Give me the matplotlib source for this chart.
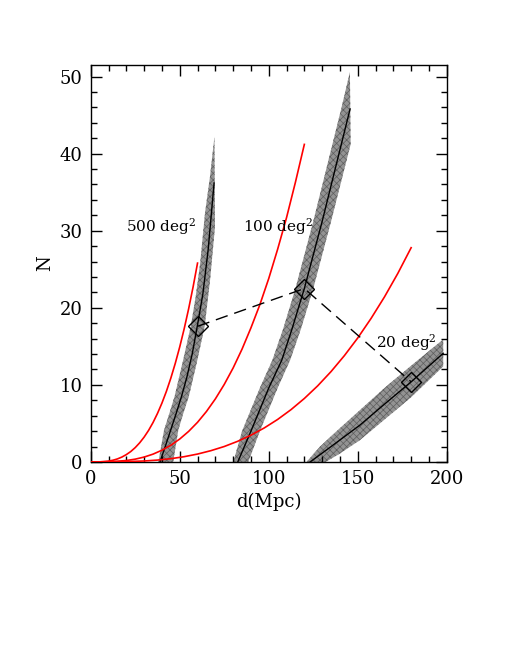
import numpy as np
import matplotlib
matplotlib.use("Agg")
import matplotlib.pyplot as plt
from matplotlib.ticker import MultipleLocator

plt.rcParams['font.family'] = ['DejaVu Serif']
plt.rcParams['mathtext.fontset'] = 'dejavuserif'
plt.rcParams['hatch.linewidth'] = 0.5
plt.rcParams['hatch.color'] = '#5e5e5e'

# ---- red curves (N vs d for each survey area) ----
red500_d = [0, 5, 10, 12.5, 15, 17.5, 20, 22.5, 25, 27.5, 30, 32.5, 35, 37.5,
            40, 42.5, 45, 47.5, 50, 52.5, 55, 57.5, 60]
red500_n = [0, 0.015, 0.12, 0.23, 0.40, 0.64, 0.96, 1.36, 1.87, 2.49, 3.23,
            4.10, 5.12, 6.30, 7.64, 9.16, 10.88, 12.80, 14.93, 17.28, 19.87,
            22.70, 25.8]

red100_d = [0, 10, 20, 25, 30, 35, 40, 45, 50, 55, 60, 65, 70, 75, 80, 85, 90,
            95, 100, 105, 110, 115, 120]
red100_n = [0, 0.024, 0.19, 0.37, 0.64, 1.02, 1.53, 2.17, 2.98, 3.97, 5.15,
            6.55, 8.18, 10.06, 12.2, 14.64, 17.4, 20.4, 23.8, 27.6, 31.7, 36.3,
            41.2]

red20_d = [0, 15, 30, 37.5, 45, 52.5, 60, 67.5, 75, 82.5, 90, 97.5, 105, 112.5,
           120, 127.5, 135, 142.5, 150, 157.5, 165, 172.5, 180]
red20_n = [0, 0.016, 0.13, 0.25, 0.43, 0.69, 1.03, 1.47, 2.01, 2.68, 3.48,
           4.42, 5.52, 6.79, 8.24, 9.88, 11.73, 13.80, 16.09, 18.63, 21.41,
           24.46, 27.8]

# ---- black curves and their shaded bands ----
blk500_d = [38.9, 42, 45, 48, 51, 54, 57, 60, 63, 66, 69.3]
blk500_n = [0, 2.1, 4.2, 6.3, 8.5, 11.0, 14.0, 17.8, 21.8, 27.6, 36.2]
band500_up_d = [38.0, 41.2, 44.3, 47.1, 51.5, 56.2, 59.0, 61.5, 64.2, 67.0, 69.5]
band500_up_n = [0, 4.15, 6.4, 8.5, 12.8, 17.6, 21.5, 25.8, 32.3, 37.0, 42.2]
band500_lo_d = [46.3, 49.2, 52.0, 55.1, 59.5, 64.0, 67.0, 69.8]
band500_lo_n = [0, 4.15, 6.3, 8.5, 12.8, 17.6, 23.5, 30.5]

blk100_d = [82.6, 90, 100, 107.3, 113, 120, 130, 140, 145.7]
blk100_n = [0, 4.0, 9.6, 13.2, 17.2, 22.5, 31.2, 40.5, 45.8]
band100_up_d = [80.1, 85, 95, 102, 108, 115, 125, 135, 140.7, 145.6]
band100_up_n = [0, 4.0, 9.6, 13.2, 17.2, 22.5, 31.2, 40.5, 45.8, 50.6]
band100_lo_d = [88.5, 95, 105, 112, 118, 125, 135, 146.0]
band100_lo_n = [0, 4.0, 9.6, 13.2, 17.2, 22.5, 31.2, 41.2]

blk20_d = [123.2, 135, 151.3, 165, 180, 198]
blk20_n = [0, 2.0, 4.8, 7.5, 10.4, 14.1]
band20_up_d = [121.2, 128.8, 140, 151.3, 165, 180, 198]
band20_up_n = [0, 2.0, 4.4, 6.75, 9.6, 12.5, 15.9]
band20_lo_d = [132, 140, 151.3, 165, 180, 198]
band20_lo_n = [0, 1.1, 2.85, 5.5, 8.4, 12.4]

# ---- diamonds joined by dashed line ----
dia_d = [60, 120, 180]
dia_n = [17.6, 22.5, 10.4]

labels = ["500 deg$^2$", "100 deg$^2$", "20 deg$^2$"]
label_d = [20, 85.5, 160.5]
label_n = [30.5, 30.5, 15.5]

fig = plt.figure(figsize=(5.19, 6.72), dpi=100)
ax = fig.add_axes([0.1748, 0.3125, 0.686, 0.5908])

for ud, un, ld, ln in [(band500_up_d, band500_up_n, band500_lo_d, band500_lo_n),
                       (band100_up_d, band100_up_n, band100_lo_d, band100_lo_n),
                       (band20_up_d, band20_up_n, band20_lo_d, band20_lo_n)]:
    ax.fill(np.r_[ud, ld[::-1]], np.r_[un, ln[::-1]], facecolor='#939393',
            edgecolor='#5e5e5e', hatch='xxxxx', linewidth=0, zorder=1)

for d, n in [(blk500_d, blk500_n), (blk100_d, blk100_n), (blk20_d, blk20_n)]:
    ax.plot(d, n, color='black', lw=1.0, zorder=2)

for d, n in [(red500_d, red500_n), (red100_d, red100_n), (red20_d, red20_n)]:
    ax.plot(d, n, color='red', lw=1.2, zorder=3)

ax.plot(dia_d, dia_n, color='black', lw=1.0, dashes=(9, 5), zorder=4)
ax.plot(dia_d, dia_n, ls='none', marker='D', ms=10, mfc='none', mec='black',
        mew=1.0, zorder=5)

for t, x, y in zip(labels, label_d, label_n):
    ax.text(x, y, t, fontsize=11, ha='left', va='center')

ax.set_xlim(0, 200)
ax.set_ylim(0, 51.5)
ax.xaxis.set_major_locator(MultipleLocator(50))
ax.xaxis.set_minor_locator(MultipleLocator(10))
ax.yaxis.set_major_locator(MultipleLocator(10))
ax.yaxis.set_minor_locator(MultipleLocator(2))
ax.tick_params(which='both', direction='in', top=True, right=True, width=1.0,
               labelsize=13, pad=6)
ax.tick_params(which='major', length=8)
ax.tick_params(which='minor', length=4)
for s in ax.spines.values():
    s.set_linewidth(1.0)

ax.set_xlabel('d(Mpc)', fontsize=13, labelpad=3)
ax.set_ylabel('N', fontsize=13, labelpad=4)

fig.savefig('out.png', dpi=100)
